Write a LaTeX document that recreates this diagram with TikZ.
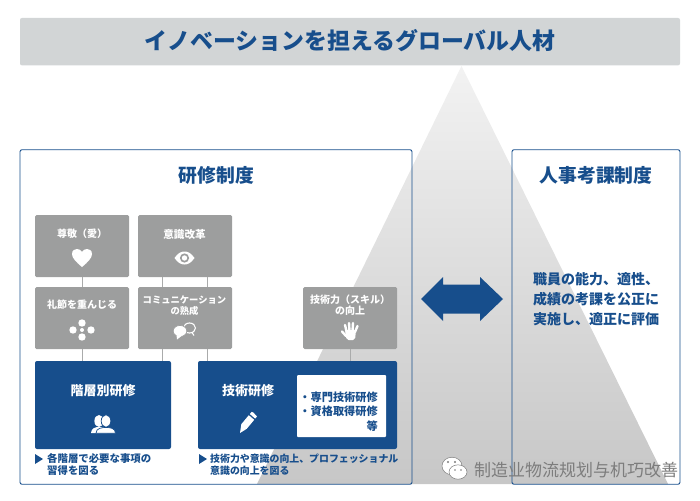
\documentclass[tikz,border=0pt]{standalone}
\usepackage{fontspec}
\setmainfont{Noto Sans CJK JP}[BoldFont={Noto Sans CJK JP Black}]
\usetikzlibrary{positioning}
\definecolor{marino}{RGB}{23,78,140}
\definecolor{grisb}{RGB}{157,158,158}
\definecolor{barra}{RGB}{210,213,214}
\definecolor{linea}{RGB}{170,171,171}
\definecolor{marca}{RGB}{125,125,125}
\tikzset{
  marco/.style={draw=marino, rounded corners=2pt, line width=0.9pt, minimum width=#1},
  tarjeta/.style={fill=grisb, rounded corners=1.5pt, minimum width=94pt, minimum height=62pt, inner sep=0pt},
  bloque/.style={fill=marino, rounded corners=2pt, inner sep=0pt},
  etq/.style={text=white, align=center, font=\bfseries\fontsize{10}{11}\selectfont, inner sep=0pt},
  etqg/.style={text=white, align=center, font=\bfseries\fontsize{13}{15}\selectfont, inner sep=0pt},
  sec/.style={text=marino, align=center, font=\bfseries\fontsize{18.8}{20}\selectfont, inner sep=0pt},
  nota/.style={text=marino, align=left, anchor=west, font=\bfseries\fontsize{9.9}{12.5}\selectfont, inner sep=0pt},
  lin/.style={draw=linea, line width=1pt},
}
\begin{document}
\begin{tikzpicture}[x=1pt, y=-1pt]
  \useasboundingbox (0,0) rectangle (700,500);
  \shade[top color=white!95!black, bottom color=black!22] (461.5,66)--(668,484)--(257,484)--cycle;
  % title
  \node[fill=barra, rounded corners=2pt, minimum width=660pt, minimum height=47.5pt, inner sep=0pt] (barra) at (350,41.7) {};
  \node[text=marino, font=\bfseries\fontsize{22.9}{24}\selectfont, inner sep=0pt] (tit) at (350,41) {イノベーションを担えるグローバル人材};
  % frames
  \node[marco=392pt, minimum height=334.5pt] (f1) at (216,317) {};
  \node[marco=168pt, minimum height=334.5pt] (f2) at (596,317) {};
  \node[sec] (s1) at (216.5,175) {研修制度};
  \node[sec] (s2) at (596,175) {人事考課制度};
  \node[text=marino, align=center, font=\bfseries\fontsize{14}{20}\selectfont, inner sep=0pt] (t2) at (596,299) {職員の能力、適性、\\成績の考課を公正に\\実施し、適正に評価};
  \fill[marino] (421,299)--(443,277)--(443,284.5)--(480,284.5)--(480,277)--(503,299)--(480,321)--(480,313.5)--(443,313.5)--(443,321)--cycle;
  % cards
  \node[tarjeta] (c1) at (82,246) {};
  \node[tarjeta] (c2) at (185,246) {};
  \node[tarjeta] (c3) at (82,318) {};
  \node[tarjeta] (c4) at (185,318) {};
  \node[tarjeta] (c5) at (350,318) {};
  \node[bloque, minimum width=136pt, minimum height=88pt] (b1) at (103,405) {};
  \node[bloque, minimum width=199pt, minimum height=88pt] (b2) at (297.5,405) {};
  \node[fill=white, rounded corners=1pt, minimum width=89pt, minimum height=62pt, inner sep=0pt] (b3) at (341.5,406) {};
  \coordinate (p1) at (162,0);
  \coordinate (p2) at (207,0);
  \draw[lin] (c1)--(c3);
  \draw[lin] (c2.south -| p1)--(c4.north -| p1);
  \draw[lin] (c2.south -| p2)--(c4.north -| p2);
  \draw[lin] (c3)--(b1.north -| c3);
  \draw[lin] (c4.south -| p1)--(b1.north -| p1);
  \draw[lin] (c4.south -| p2)--(b2.north -| p2);
  \draw[lin] (c5)--(b2.north -| c5);
  % labels
  \node[etq] (l1) at (82,234) {尊敬（愛）};
  \node[etq, font=\bfseries\fontsize{10.6}{11}\selectfont] (l2) at (184.5,234) {意識改革};
  \node[etq] (l3) at (82,305) {礼節を重んじる};
  \node[etq, font=\bfseries\fontsize{9.3}{11}\selectfont] (l4) at (184.5,305.5) {コミュニケーション\\の熟成};
  \node[etq] (l5) at (350,305.5) {技術力（スキル）\\の向上};
  \node[etqg] (l6) at (103,391) {階層別研修};
  \node[etqg] (l7) at (248,391) {技術研修};
  \node[text=marino, align=right, anchor=east, font=\bfseries\fontsize{11.2}{14.5}\selectfont, inner sep=0pt] (l8) at (378,411.5) {・専門技術研修\\・資格取得研修\\等};
  \fill[marino] (35,454)--(43,459)--(35,464)--cycle;
  \fill[marino] (199,454)--(207,459)--(199,464)--cycle;
  \node[nota, font=\bfseries\fontsize{10.4}{12.5}\selectfont] (n1) at (47,464.5) {各階層で必要な事項の\\習得を図る};
  \node[nota] (n2) at (210,464.5) {技術力や意識の向上、プロフェッショナル\\意識の向上を図る};
  % icons
  \fill[white] (82,267) .. controls (76,262) and (72,258) .. (72,254) .. controls (72,250) and (75,249) .. (77,249) .. controls (79,249) and (81,250) .. (82,252) .. controls (83,250) and (85,249) .. (87,249) .. controls (89,249) and (92,250) .. (92,254) .. controls (92,258) and (88,262) .. (82,267) -- cycle;
  \fill[white] (174.5,258) .. controls (178,253) and (181,251.5) .. (184.5,251.5) .. controls (188,251.5) and (191,253) .. (194.5,258) .. controls (191,263) and (188,264.5) .. (184.5,264.5) .. controls (181,264.5) and (178,263) .. (174.5,258) -- cycle;
  \fill[grisb] (184.5,258) circle (4.6);
  \fill[white] (184.5,258) circle (2.7);
  \fill[white] (82,330) circle (2) (73,330) circle (3.7) (91,330) circle (3.7) (82,323) circle (3.7) (82,337) circle (3.7);
  \draw[white, line width=1.1pt] (189.5,328) ellipse (6 and 5) (192,332.5)--(194,335.5);
  \fill[white, draw=grisb, line width=0.7pt] (180,331) ellipse (6.8 and 5.6);
  \fill[white] (176.5,335)--(177,339.5)--(181.5,336)--cycle;
  \fill[white, rounded corners=2pt] (345,330)--(356,330)--(355,340)--(346.5,340)--cycle;
  \draw[white, line width=2.4pt, line cap=round] (346.7,332)--(345,325) (349.5,331)--(349,323) (352.5,331)--(353,323) (355,332)--(357.5,326) (346,336)--(342,331.5);
  \fill[white] (99,421) ellipse (4.6 and 6) (91,433) .. controls (91,428) and (96,427) .. (99,427) .. controls (102,427) and (107,428) .. (107,433) -- cycle;
  \fill[white, draw=marino, line width=0.7pt] (106,421) ellipse (4.8 and 6.2) (96,433.3) .. controls (96,428) and (102,427.5) .. (106,427.5) .. controls (110,427.5) and (115.5,428) .. (115.5,433.3) -- cycle;
  \fill[white] (240,433)--(246.7,428.8)--(254.2,419.8)--(248.8,415.2)--(241.3,424.2)--cycle;
  \fill[white] (249.8,414)--(255.2,418.6)--(257,416.4)--(253.4,412.6)--(251.8,411.8)--cycle;
  % wechat mark
  \draw[marca, fill=white, line width=0.5pt] (452,466) ellipse (10 and 8.8);
  \draw[marca, fill=white, line width=0.5pt] (458,472) ellipse (9 and 7.2);
  \fill[marca] (448,462) circle (1.1) (455,462) circle (1.1) (455,470) circle (0.9) (461,470) circle (0.9);
  \node[text=marca, anchor=west, font=\fontsize{17}{18}\selectfont, inner sep=0pt] (wm) at (474,470) {制造业物流规划与机巧改善};
\end{tikzpicture}
\end{document}
